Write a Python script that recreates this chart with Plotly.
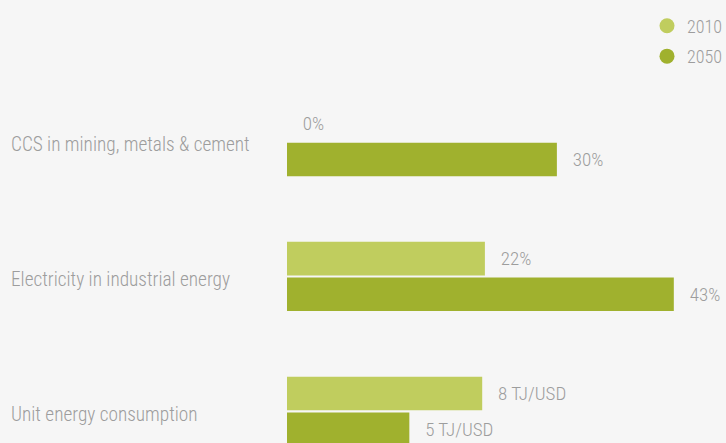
import plotly.graph_objects as go

# categories, top to bottom
categories = ["CCS in mining, metals & cement",
              "Electricity in industrial energy",
              "Unit energy consumption"]

# bar lengths (percent scale; the TJ/USD row uses its own scale)
bars_2010 = [0, 22, 21.7]
bars_2050 = [30, 43, 13.6]

# labels printed next to the bars
labels_2010 = ["0%", "22%", "8 TJ/USD"]
labels_2050 = ["30%", "43%", "5 TJ/USD"]

series_names = ["2010", "2050"]
colors = ["#c0cd5e", "#a0b12e"]

FONT = "Liberation Sans Narrow, Roboto Condensed, DejaVu Sans Condensed, Roboto, sans-serif"
GREY = "#9d9d9d"
PAD = "\u00a0\u00a0\u00a0"


def txt(size=19):
    return dict(family=FONT, size=size, color=GREY, weight=300)


fig = go.Figure()

for name, vals, labs, col in zip(series_names, [bars_2010, bars_2050],
                                 [labels_2010, labels_2050], colors):
    fig.add_trace(go.Bar(
        y=categories, x=vals, orientation="h", name=name,
        marker=dict(color=col, line=dict(width=0)),
        text=labs, texttemplate=PAD + "%{text}", textposition="outside",
        textfont=txt(), constraintext="none", cliponaxis=False,
        showlegend=False, hoverinfo="skip",
    ))

# round legend markers
for name, col in zip(series_names, colors):
    fig.add_trace(go.Scatter(
        x=[None], y=[None], mode="markers", name=name,
        marker=dict(color=col, size=15, symbol="circle"),
        legendgroup=name,
    ))

# left-aligned category labels
for cat in categories:
    fig.add_annotation(
        x=(9 - 287) / 439, xref="paper", y=cat, yref="y",
        text=cat, showarrow=False, xanchor="left", yanchor="middle",
        yshift=-3, font=txt(19.3),
    )

fig.update_layout(
    width=726, height=443,
    paper_bgcolor="#f6f6f6", plot_bgcolor="#f6f6f6",
    margin=dict(l=287, r=0, t=0, b=0, autoexpand=False),
    barmode="group", bargap=0.47, bargroupgap=0.06,
    font=txt(),
    xaxis=dict(range=[0, 48.8], visible=False, fixedrange=True),
    yaxis=dict(range=[2.235, -1.05], visible=False, fixedrange=True,
               categoryorder="array", categoryarray=categories),
    legend=dict(x=(647 - 287) / 439, xanchor="left", y=0.983, yanchor="top",
                bgcolor="rgba(0,0,0,0)", tracegroupgap=4,
                font=txt(18), itemclick=False, itemdoubleclick=False),
    showlegend=True,
)

fig.write_html("out.html", config={"displayModeBar": False},
               post_script="document.body.style.margin='0';")
